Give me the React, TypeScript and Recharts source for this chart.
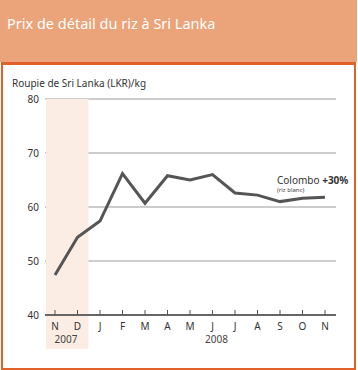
import { LineChart, Line, XAxis, YAxis, CartesianGrid, ReferenceArea } from "recharts";

const monthKeys = ["2007-11", "2007-12", "2008-01", "2008-02", "2008-03", "2008-04", "2008-05", "2008-06", "2008-07", "2008-08", "2008-09", "2008-10", "2008-11"];
const monthLabels = ["N", "D", "J", "F", "M", "A", "M", "J", "J", "A", "S", "O", "N"];
const colomboPrice = [47.4, 54.4, 57.4, 66.2, 60.7, 65.8, 65.0, 66.0, 62.6, 62.2, 61.0, 61.6, 61.8];
const yTicks = [40, 50, 60, 70, 80];
const yearLabels: { [i: number]: string } = { 0: "2007", 7: "2008" };

const data = monthKeys.map((k, i) => ({ key: k, label: monthLabels[i], colombo: colomboPrice[i] }));

const FONT = "'Noto Sans', 'Open Sans', sans-serif";

const MonthTick = (props: any) => {
  const { x, y, index } = props;
  const year = yearLabels[index];
  // year label offset: 2007 centred under N-D, 2008 a bit right of the middle month
  const yearDx = index === 0 ? 11 : 4;
  return (
    <g>
      <line x1={x} x2={x} y1={y - 5} y2={y} stroke="#555" strokeWidth={1} />
      <text x={x} y={y + 15} textAnchor="middle" fontSize={10} fill="#333" fontFamily={FONT}>
        {monthLabels[index]}
      </text>
      {year && (
        <text x={x + yearDx} y={y + 28} textAnchor="middle" fontSize={10} fill="#444" fontFamily={FONT}>
          {year}
        </text>
      )}
    </g>
  );
};

const BandShape = (props: any) => {
  const { x, y, width, height } = props;
  return <rect x={x - 9} y={y} width={width + 20} height={height + 34} fill="#FBEDE3" />;
};

export default function App() {
  return (
    <div style={{ position: "absolute", left: 0, top: 0, width: 358, height: 370, background: "#fff", fontFamily: FONT }}>
      <div style={{ position: "absolute", left: 0, top: 0, width: 357, height: 62, background: "#EBA379" }}>
        <div style={{ position: "absolute", left: 7, top: 13, color: "#fff", fontSize: 14.5 }}>
          Prix de détail du riz à Sri Lanka
        </div>
      </div>
      <div
        style={{
          position: "absolute",
          left: 1,
          top: 62,
          width: 351,
          height: 303,
          borderTop: "3px solid #E2602A",
          borderLeft: "2px solid #E2602A",
          borderRight: "2px solid #E2602A",
          borderBottom: "2px solid #E2602A",
        }}
      />
      <div style={{ position: "absolute", left: 12, top: 76, fontSize: 10, color: "#333" }}>
        Roupie de Sri Lanka (LKR)/kg
      </div>
      <div style={{ position: "absolute", left: 0, top: 0 }}>
        <LineChart width={358} height={370} data={data} margin={{ top: 99, right: 22, bottom: 0, left: 0 }}>
          <ReferenceArea x1="2007-11" x2="2007-12" ifOverflow="visible" shape={<BandShape />} />
          <CartesianGrid vertical={false} stroke="#9a9a9a" strokeWidth={1} />
          <XAxis
            dataKey="key"
            height={55}
            padding={{ left: 10, right: 11 }}
            axisLine={{ stroke: "#666", strokeWidth: 2 }}
            tickLine={false}
            tickSize={0}
            tickMargin={0}
            interval={0}
            tick={<MonthTick />}
          />
          <YAxis
            domain={[40, 80]}
            ticks={yTicks}
            width={45}
            axisLine={false}
            tickLine={false}
            tickSize={4}
            tickMargin={2}
            tick={{ fontSize: 10, fill: "#333", fontFamily: FONT }}
          />
          <Line dataKey="colombo" stroke="#555" strokeWidth={3} dot={false} isAnimationActive={false} />
        </LineChart>
      </div>
      <div style={{ position: "absolute", left: 277, top: 173, fontSize: 10, color: "#333", whiteSpace: "nowrap" }}>
        Colombo <b>+30%</b>
      </div>
      <div style={{ position: "absolute", left: 277, top: 186, fontSize: 6, color: "#444", whiteSpace: "nowrap" }}>
        (riz blanc)
      </div>
    </div>
  );
}
